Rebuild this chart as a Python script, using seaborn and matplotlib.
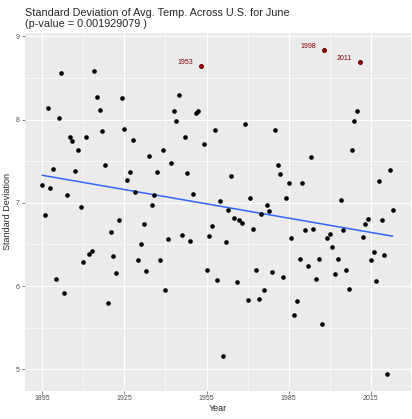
import numpy as np
import pandas as pd
import matplotlib
matplotlib.use("Agg")
import matplotlib.pyplot as plt
import seaborn as sns
from matplotlib.ticker import AutoMinorLocator, FixedLocator

# June std. dev. of avg temperature
years = list(range(1895, 2024))
std_dev = [
    7.21, 6.85, 8.14, 7.18, 7.41, 6.09, 8.02, 8.56, 5.92, 7.09,   # 1895-1904
    7.79, 7.74, 7.38, 7.63, 6.95, 6.29, 7.79, 6.39, 6.42, 8.58,   # 1905-1914
    8.27, 8.11, 7.86, 7.46, 5.80, 6.65, 6.36, 6.16, 6.80, 8.26,   # 1915-1924
    7.89, 7.27, 7.37, 7.75, 7.13, 6.31, 6.51, 6.74, 6.18, 7.56,   # 1925-1934
    6.98, 7.10, 7.37, 6.31, 7.64, 5.95, 6.57, 7.48, 8.10, 7.98,   # 1935-1944
    8.30, 6.61, 7.79, 7.36, 6.54, 7.11, 8.08, 8.10, 8.64, 7.71,   # 1945-1954
    6.19, 6.60, 6.72, 7.88, 6.07, 7.02, 5.16, 6.53, 6.92, 7.32,   # 1955-1964
    6.82, 6.05, 6.79, 6.76, 7.95, 5.83, 7.06, 6.68, 6.19, 5.84,   # 1965-1974
    6.87, 5.95, 6.98, 6.90, 6.17, 7.88, 7.45, 7.35, 6.11, 7.06,   # 1975-1984
    7.24, 6.58, 5.65, 5.82, 6.33, 7.24, 6.67, 6.24, 7.55, 6.68,   # 1985-1994
    6.08, 6.33, 5.55, 8.84, 6.58, 6.62, 6.47, 6.15, 6.33, 7.03,   # 1995-2004
    6.67, 6.19, 5.96, 7.64, 7.98, 8.10, 8.69, 6.59, 6.74, 6.81,   # 2005-2014
    6.31, 6.41, 6.06, 7.26, 6.80, 6.37, 4.94, 7.40, 6.92,         # 2015-2023
]
highlight_years = [1953, 1998, 2011]
x_ticks = [1895, 1925, 1955, 1985, 2015]
y_ticks = [5, 6, 7, 8, 9]

df = pd.DataFrame({"Year": years, "sd": std_dev})
top = df[df["Year"].isin(highlight_years)]

sns.set_theme(style="darkgrid", rc={
    "axes.facecolor": "#EBEBEB",
    "grid.color": "white",
})
plt.rcParams["font.family"] = ["Liberation Sans", "DejaVu Sans"]

fig = plt.figure(figsize=(4.12, 4.19), dpi=100)
ax = fig.add_axes([0.060, 0.068, 0.937, 0.853])

sns.scatterplot(data=df, x="Year", y="sd", color="black", s=11,
                linewidth=0, ax=ax, zorder=3)
sns.scatterplot(data=top, x="Year", y="sd", color="#8B0000", s=11,
                linewidth=0, ax=ax, zorder=4)
sns.regplot(data=df, x="Year", y="sd", scatter=False, ci=None,
            color="#3366FF", line_kws={"linewidth": 1.1}, ax=ax)

for _, r in top.iterrows():
    ax.annotate(str(int(r["Year"])), (r["Year"], r["sd"]),
                xytext=(-5.5, 2.5), textcoords="offset points",
                ha="right", va="center", fontsize=5, color="#8B0000")

ax.set_xlim(1888.6, 2029.6)
ax.set_ylim(4.745, 9.04)
ax.xaxis.set_major_locator(FixedLocator(x_ticks))
ax.yaxis.set_major_locator(FixedLocator(y_ticks))
ax.xaxis.set_minor_locator(AutoMinorLocator(2))
ax.yaxis.set_minor_locator(AutoMinorLocator(2))
ax.grid(which="major", color="white", linewidth=0.8)
ax.grid(which="minor", color="white", linewidth=0.4)
ax.set_axisbelow(True)
for s in ax.spines.values():
    s.set_visible(False)

ax.tick_params(axis="both", which="major", labelsize=5, colors="#4D4D4D",
               length=2, width=0.5, pad=1.5, bottom=True, left=True)
ax.tick_params(axis="both", which="minor", length=0)

ax.set_xlabel("Year", fontsize=6.5, labelpad=1)
ax.set_ylabel("Standard Deviation", fontsize=6.5, labelpad=3)

fig.text(0.061, 0.982, "Standard Deviation of Avg. Temp. Across U.S. for June\n"
         "(p-value = 0.001929079 )", fontsize=7.8, ha="left", va="top",
         linespacing=1.15)

fig.savefig("out.png", dpi=100)
